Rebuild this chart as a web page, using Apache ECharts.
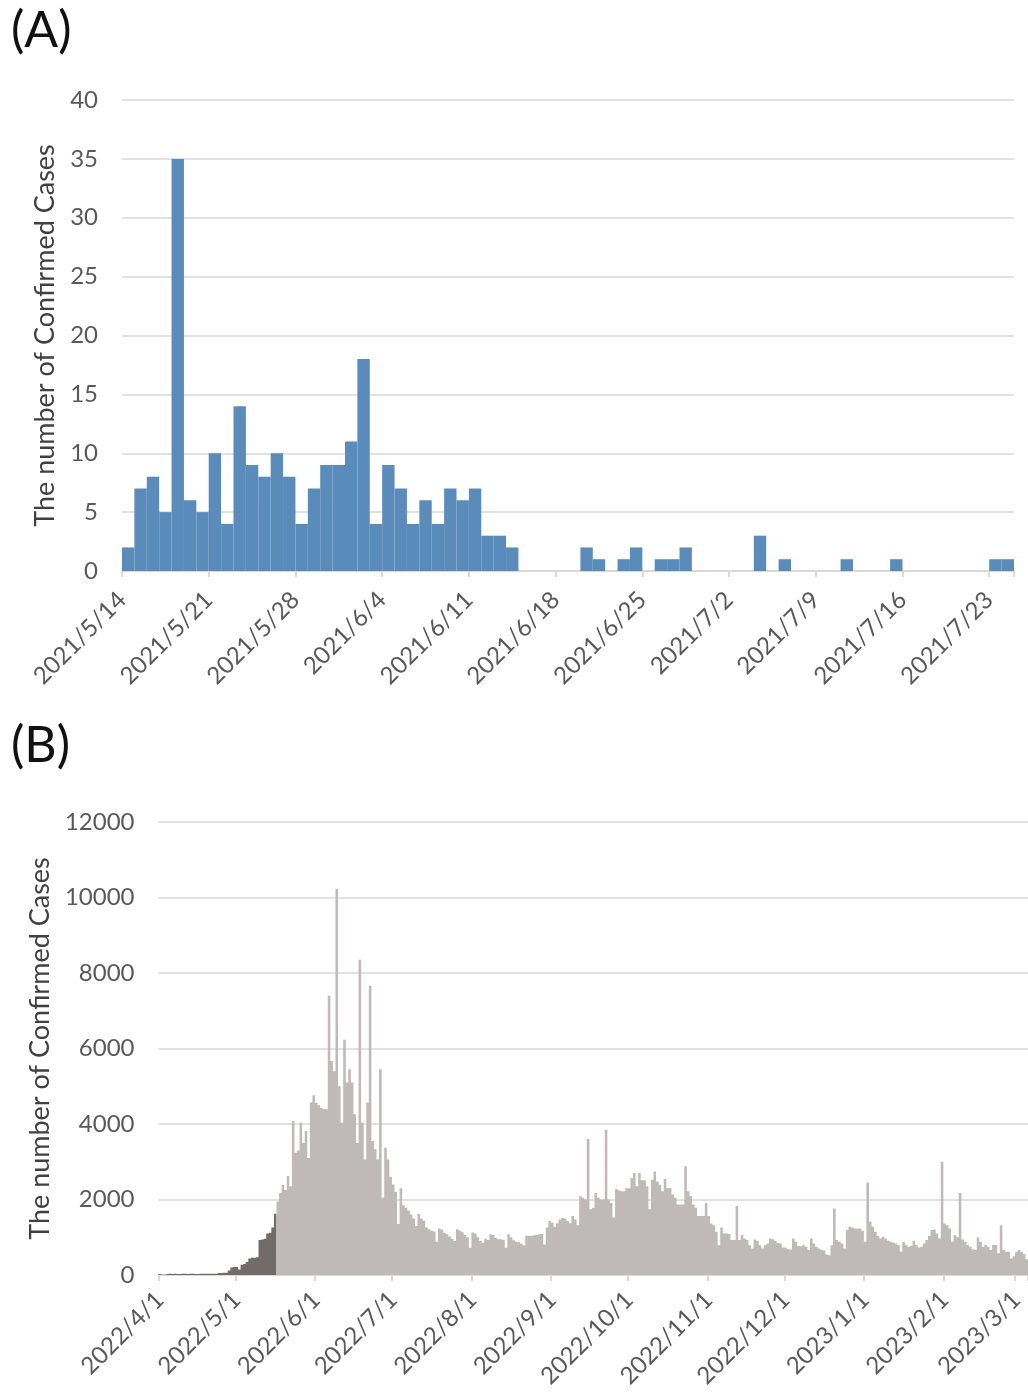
<!DOCTYPE html>
<html>
<head>
<meta charset="utf-8">
<title>Confirmed cases</title>
<script src="https://cdn.jsdelivr.net/npm/echarts/dist/echarts.min.js"></script>
<style>
  html, body { margin: 0; padding: 0; background: #ffffff; }
  #chart { width: 1028px; height: 1399px; }
</style>
</head>
<body>
<div id="chart"></div>
<script>
// (A) daily confirmed cases, 2021/5/14 - 2021/7/24
const startA = '2021/5/14';
const casesA = [
  2, 7, 8, 5, 35, 6, 5, 10, 4, 14, 9, 8, 10, 8, 4, 7, 9, 9, 11, 18,
  4, 9, 7, 4, 6, 4, 7, 6, 7, 3, 3, 2, 0, 0, 0, 0, 0, 2, 1, 0,
  1, 2, 0, 1, 1, 2, 0, 0, 0, 0, 0, 3, 0, 1, 0, 0, 0, 0, 1, 0,
  0, 0, 1, 0, 0, 0, 0, 0, 0, 0, 1, 1
];
const tickStepA = 7;
const yTicksA = { min: 0, max: 40, step: 5 };

// (B) daily confirmed cases, 2022/4/1 - 2023/3/5
const startB = '2022/4/1';
const earlyPhaseEnd = '2022/5/16';   // last day drawn in the darker shade
const casesApr22 = [25, 5, 8, 28, 31, 26, 30, 27, 29, 32, 30, 28, 33, 31, 29, 27, 30, 32, 34, 31,
  35, 33, 36, 50, 55, 58, 60, 120, 200, 215];
const casesMay22 = [210, 145, 270, 290, 345, 440, 455, 460, 470, 930, 940, 960, 1100, 1120, 1255, 1620,
  1950, 2170, 2390, 2250, 2620, 2350, 4080, 3240, 3300, 4035, 3500, 3815, 3100, 4570, 4760];
const casesJun22 = [4560, 4500, 4430, 4400, 4390, 7400, 5670, 5400, 10230, 5000, 4035, 6230, 5100, 5450,
  5100, 4260, 3500, 8350, 4035, 3060, 4570, 7660, 3550, 3330, 3060, 5450, 2045, 3370, 3060, 2600];
const casesJul22 = [2400, 2200, 1350, 2295, 1850, 1780, 1710, 1600, 1500, 1300, 1620, 1500, 1440, 1260,
  1215, 1170, 1150, 880, 1230, 1200, 1120, 1080, 1020, 960, 900, 1215, 1170, 1130, 1060, 1000, 720];
const casesAug22 = [1125, 1100, 1000, 900, 855, 960, 930, 1080, 1060, 980, 950, 945, 930, 720, 1080, 1000,
  920, 880, 870, 830, 790, 1040, 1030, 1040, 1050, 1060, 1080, 1090, 810, 1260, 1430];
const casesSep22 = [1385, 1280, 1370, 1470, 1510, 1500, 1430, 1370, 1560, 1470, 1315, 2090, 2045, 2000,
  3600, 1740, 1780, 2175, 2045, 2000, 2000, 3840, 2000, 1910, 1520, 2280, 2245, 2220, 2220, 2300];
const casesOct22 = [2300, 2570, 2700, 2350, 2700, 2510, 2510, 2350, 1740, 2525, 2745, 2480, 2390, 2220,
  2540, 2300, 2300, 2130, 2045, 1870, 1870, 1870, 2880, 2220, 2090, 1870, 1780, 1560, 1560, 1560, 1910];
const casesNov22 = [1560, 1365, 1320, 1145, 790, 1260, 1100, 1100, 1085, 925, 925, 1825, 925, 1057, 970,
  925, 790, 705, 940, 905, 790, 705, 790, 835, 970, 950, 905, 850, 835, 730];
const casesDec22 = [720, 680, 670, 970, 880, 770, 760, 790, 750, 660, 970, 835, 750, 705, 670, 650, 540,
  520, 790, 1760, 925, 880, 835, 705, 1190, 1275, 1260, 1235, 1235, 1235, 1170];
const casesJan23 = [880, 2450, 1410, 1280, 1145, 1030, 970, 1015, 970, 907, 880, 855, 837, 793, 617, 880,
  793, 750, 767, 907, 793, 731, 750, 837, 925, 1030, 1190, 1207, 1100, 970, 3000];
const casesFeb23 = [1365, 1320, 1235, 880, 1057, 1000, 2175, 940, 880, 793, 750, 680, 660, 995, 880, 750,
  793, 750, 660, 793, 793, 573, 1320, 660, 617, 617, 440, 500];
const casesMar23 = [617, 660, 617, 555, 420];
const yTicksB = { min: 0, max: 12000, step: 2000 };

const casesB = [].concat(casesApr22, casesMay22, casesJun22, casesJul22, casesAug22, casesSep22,
  casesOct22, casesNov22, casesDec22, casesJan23, casesFeb23, casesMar23);

// consecutive day labels in y/m/d form
function dayLabels(start, n) {
  const [y, m, d] = start.split('/').map(Number);
  const out = [];
  for (let i = 0; i < n; i++) {
    const t = new Date(y, m - 1, d + i);
    out.push(t.getFullYear() + '/' + (t.getMonth() + 1) + '/' + t.getDate());
  }
  return out;
}
const daysA = dayLabels(startA, casesA.length);
const daysB = dayLabels(startB, casesB.length);
const splitIndexB = daysB.indexOf(earlyPhaseEnd);
const isMonthStart = (i, v) => /\/1$/.test(v);

// the two phases of (B) share one axis; each keeps only its own days
const earlyB = casesB.map((v, i) => (i <= splitIndexB ? v : 0));
const laterB = casesB.map((v, i) => (i > splitIndexB ? v : 0));

const FONT = 'Lato, "Open Sans", "Liberation Sans", sans-serif';
const TICK_COLOR = '#595959';
const GRID_COLOR = '#d9d9d9';
const BLUE = '#5a8cbb';
const DARK = '#736a6a';
const LIGHT = '#c0b9b9';

const tickLabel = { color: TICK_COLOR, fontSize: 24, fontFamily: FONT };
const yName = 'The number of Confirmed Cases';
const yNameStyle = { color: '#404040', fontSize: 27, fontFamily: FONT };
const plainNumber = v => String(v);

const chart = echarts.init(document.getElementById('chart'), null, { renderer: 'canvas' });
chart.setOption({
  animation: false,
  backgroundColor: '#ffffff',
  title: [
    { text: '(A)', left: 6, top: 1, textStyle: { fontSize: 50, fontWeight: 'normal', color: '#111', fontFamily: FONT } },
    { text: '(B)', left: 6, top: 716, textStyle: { fontSize: 50, fontWeight: 'normal', color: '#111', fontFamily: FONT } }
  ],
  grid: [
    { left: 122, top: 100, width: 892, height: 471, containLabel: false, outerBoundsMode: 'none' },
    { left: 158.5, top: 822, width: 869.5, height: 453, containLabel: false, outerBoundsMode: 'none' }
  ],
  xAxis: [
    { // (A) day bands
      type: 'category', gridIndex: 0, data: daysA, boundaryGap: true,
      axisLine: { lineStyle: { color: GRID_COLOR, width: 2 } },
      axisTick: { show: true, interval: tickStepA - 1, alignWithLabel: false, length: 6, lineStyle: { color: GRID_COLOR, width: 2 } },
      axisLabel: { show: false },
      splitLine: { show: false }
    },
    { // (A) weekly date labels placed on the day boundaries
      type: 'value', gridIndex: 0, position: 'bottom',
      min: 0, max: daysA.length, interval: tickStepA,
      axisLine: { show: false }, axisTick: { show: false }, splitLine: { show: false },
      axisLabel: Object.assign({}, tickLabel, {
        rotate: 45, margin: 25, showMaxLabel: true, showMinLabel: true,
        formatter: v => (v % tickStepA === 0 && v < daysA.length) ? daysA[v] : ''
      })
    },
    { // (B) day bands, labelled on the first of each month
      type: 'category', gridIndex: 1, data: daysB, boundaryGap: true,
      axisLine: { lineStyle: { color: GRID_COLOR, width: 2 } },
      axisTick: { show: true, interval: isMonthStart, alignWithLabel: false, length: 6, lineStyle: { color: GRID_COLOR, width: 2 } },
      axisLabel: Object.assign({}, tickLabel, { rotate: 45, margin: 21, interval: isMonthStart }),
      splitLine: { show: false }
    }
  ],
  yAxis: [
    {
      type: 'value', gridIndex: 0, min: yTicksA.min, max: yTicksA.max, interval: yTicksA.step,
      axisLine: { show: false }, axisTick: { show: false },
      splitLine: { lineStyle: { color: GRID_COLOR, width: 1.5 } },
      axisLabel: Object.assign({}, tickLabel, { margin: 24, formatter: plainNumber }),
      name: yName, nameLocation: 'middle', nameGap: 63, nameRotate: 90,
      nameTextStyle: yNameStyle
    },
    {
      type: 'value', gridIndex: 1, min: yTicksB.min, max: yTicksB.max, interval: yTicksB.step,
      axisLine: { show: false }, axisTick: { show: false },
      splitLine: { lineStyle: { color: GRID_COLOR, width: 1.5 } },
      axisLabel: Object.assign({}, tickLabel, { margin: 24, formatter: plainNumber }),
      name: yName, nameLocation: 'middle', nameGap: 104, nameRotate: 90,
      nameTextStyle: yNameStyle
    }
  ],
  series: [
    {
      type: 'bar', xAxisIndex: 0, yAxisIndex: 0, data: casesA,
      barCategoryGap: '0%', itemStyle: { color: BLUE }
    },
    { // drawn as one path so neighbouring days join without seams
      type: 'bar', xAxisIndex: 2, yAxisIndex: 1, data: earlyB,
      large: true, largeThreshold: 50,
      barWidth: '100%', barGap: '-100%',
      itemStyle: { color: DARK }
    },
    {
      type: 'bar', xAxisIndex: 2, yAxisIndex: 1, data: laterB,
      large: true, largeThreshold: 50,
      barWidth: '100%', barGap: '-100%',
      itemStyle: { color: LIGHT }
    }
  ]
});
</script>
</body>
</html>
